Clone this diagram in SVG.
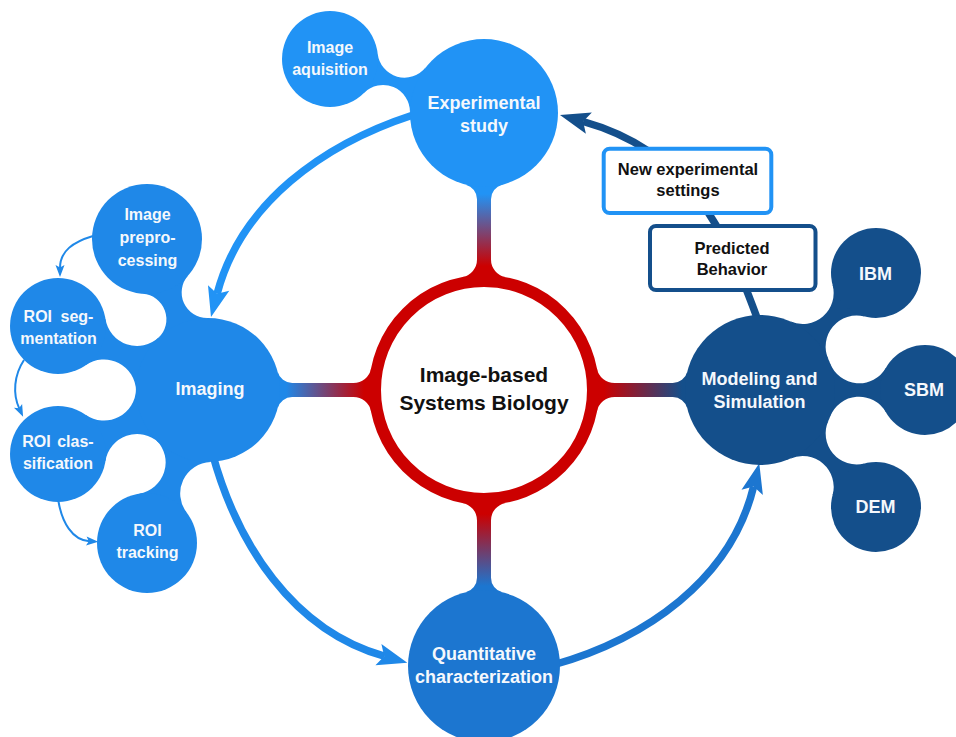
<svg xmlns="http://www.w3.org/2000/svg" width="956" height="737" viewBox="0 0 956 737">
<defs>
<style>
text { font-family: "Liberation Sans", Arial, sans-serif; font-weight: bold; text-anchor: middle; }
.wt { fill: #f5f8fc; }
.bt { fill: #111111; }
.exp { fill: #2193f5; }
.img { fill: #1f88e8; }
.qua { fill: #1c76d0; }
.mod { fill: #144f8b; }
.big { fill: none; stroke-width: 7.5; }
.small { fill: none; stroke: #1f88e8; stroke-width: 2; }
.box { fill: #ffffff; stroke-width: 4; }
</style>
<linearGradient id="gExp" gradientUnits="userSpaceOnUse" x1="484" y1="194" x2="484" y2="266">
<stop offset="0" stop-color="#2193f5"/><stop offset="1" stop-color="#cc0000"/>
</linearGradient>
<linearGradient id="gImg" gradientUnits="userSpaceOnUse" x1="286" y1="390" x2="364" y2="390">
<stop offset="0" stop-color="#1f88e8"/><stop offset="1" stop-color="#cc0000"/>
</linearGradient>
<linearGradient id="gQua" gradientUnits="userSpaceOnUse" x1="484" y1="514" x2="484" y2="586">
<stop offset="0" stop-color="#cc0000"/><stop offset="1" stop-color="#1c76d0"/>
</linearGradient>
<linearGradient id="gMod" gradientUnits="userSpaceOnUse" x1="604" y1="390" x2="682" y2="390">
<stop offset="0" stop-color="#cc0000"/><stop offset="1" stop-color="#144f8b"/>
</linearGradient>
<marker id="mA1" viewBox="-8 -12 34 24" markerWidth="34" markerHeight="24" refX="0" refY="0" orient="auto" markerUnits="userSpaceOnUse"><path d="M24,0 L-6,-11 L0,0 L-6,11 Z" fill="#2193f5"/></marker>
<marker id="mA2" viewBox="-8 -12 34 24" markerWidth="34" markerHeight="24" refX="0" refY="0" orient="auto" markerUnits="userSpaceOnUse"><path d="M24,0 L-6,-11 L0,0 L-6,11 Z" fill="#1f88e8"/></marker>
<marker id="mA3" viewBox="-8 -12 34 24" markerWidth="34" markerHeight="24" refX="0" refY="0" orient="auto" markerUnits="userSpaceOnUse"><path d="M24,0 L-6,-11 L0,0 L-6,11 Z" fill="#1c76d0"/></marker>
<marker id="mA4" viewBox="-8 -12 34 24" markerWidth="34" markerHeight="24" refX="0" refY="0" orient="auto" markerUnits="userSpaceOnUse"><path d="M24,0 L-6,-11 L0,0 L-6,11 Z" fill="#144f8b"/></marker>
<marker id="mS" viewBox="-4 -6 14 12" markerWidth="14" markerHeight="12" refX="0" refY="0" orient="auto" markerUnits="userSpaceOnUse"><path d="M9,0 L-3,-4.5 L-0.5,0 L-3,4.5 Z" fill="#1f88e8"/></marker>
</defs>
<rect width="956" height="737" fill="#ffffff"/>

<g id="connectors">
<g id="bars">
<path fill="url(#gExp)" d="M465.71,184.7 A15,15 0 0 1 477,199.24 L477,259.4 A18,18 0 0 1 462.4,277.1 L505.6,277.1 A18,18 0 0 1 491,259.4 L491,199.24 A15,15 0 0 1 502.29,184.7 Z"/>
<path fill="url(#gImg)" d="M277.66,371.79 A15,15 0 0 0 292.17,383 L353.4,383 A18,18 0 0 0 371.1,368.4 L371.1,411.6 A18,18 0 0 0 353.4,397 L292.17,397 A15,15 0 0 0 277.66,408.21 Z"/>
<path fill="url(#gQua)" d="M462.4,502.9 A18,18 0 0 1 477,520.6 L477,577.7 A15,15 0 0 1 465.63,592.25 L502.37,592.25 A15,15 0 0 1 491,577.7 L491,520.6 A18,18 0 0 1 505.6,502.9 Z"/>
<path fill="url(#gMod)" d="M596.9,368.4 A18,18 0 0 0 614.6,383 L672.73,383 A15,15 0 0 0 687.28,371.67 L687.28,408.33 A15,15 0 0 0 672.73,397 L614.6,397 A18,18 0 0 0 596.9,411.6 Z"/>
<path class="exp" d="M363.9,92.9 A27,27 0 0 1 410,112.3 L425.75,67.35 A27,27 0 0 1 377.7,53.7 Z"/>
<path class="img" d="M142.83,293.84 A25.5,25.5 0 0 1 158.45,337.77 L207.36,318 A25.5,25.5 0 0 1 188.09,275.56 Z"/>
<path class="img" d="M85.61,365.26 A32,32 0 0 1 136.01,391 L158.91,337.33 A32,32 0 0 1 105.45,318.75 Z"/>
<path class="img" d="M105.45,461.25 A32,32 0 0 1 158.91,442.67 L136.01,389 A32,32 0 0 1 85.61,414.74 Z"/>
<path class="img" d="M186.69,512.6 A31.5,31.5 0 0 1 210.57,461.96 L156.62,440.45 A31.5,31.5 0 0 1 139.12,493.63 Z"/>
<path class="mod" d="M832.58,284.82 A31,31 0 0 1 790.19,321.35 L828.38,359.22 A31,31 0 0 1 864.54,316.51 Z"/>
<path class="mod" d="M885.95,367.64 A31,31 0 0 1 830.08,363.28 L830.08,416.72 A31,31 0 0 1 885.95,412.36 Z"/>
<path class="mod" d="M864.54,463.49 A31,31 0 0 1 828.38,420.78 L790.19,458.65 A31,31 0 0 1 832.58,495.18 Z"/>
</g>
<g id="arrows">
<path class="big" stroke="#2193f5" marker-end="url(#mA1)" d="M413,115 C323.7,144.1 241,202.9 217.1,293.8"/>
<path class="big" stroke="#1f88e8" marker-end="url(#mA2)" d="M212,452 C236.8,544 292.6,630.4 384.2,656.2"/>
<path class="big" stroke="#1c76d0" marker-end="url(#mA3)" d="M553,665 C645.4,639 730.9,580 753.6,486.6"/>
<path class="big" stroke="#144f8b" marker-end="url(#mA4)" d="M760,326 C724.4,227.2 689,151.2 583.1,121.5"/>
<path class="small" marker-end="url(#mS)" d="M93,236 C73,242 60,251 60,268"/>
<path class="small" marker-end="url(#mS)" d="M24,360 C14,375 12.5,394 19.3,408.6"/>
<path class="small" marker-end="url(#mS)" d="M58.5,501.5 C62,522 72,540 89.3,541.2"/>
</g>
</g>

<g id="node-center">
<circle cx="484" cy="390" r="109" fill="#ffffff" stroke="#cc0000" stroke-width="12"/>
<text class="bt" x="484" y="382" font-size="21">Image-based</text>
<text class="bt" x="484" y="409.5" font-size="21">Systems Biology</text>
</g>

<g id="node-experimental">
<circle class="exp" cx="484" cy="113" r="74"/>
<text class="wt" x="484" y="108.5" font-size="18">Experimental</text>
<text class="wt" x="484" y="131.5" font-size="18">study</text>
</g>

<g id="node-acquisition">
<circle class="exp" cx="330" cy="59" r="48"/>
<text class="wt" x="330" y="52.5" font-size="16">Image</text>
<text class="wt" x="330" y="74.5" font-size="16">aquisition</text>
</g>

<g id="node-imaging">
<circle class="img" cx="208" cy="390" r="72"/>
<text class="wt" x="210" y="395" font-size="18">Imaging</text>
</g>

<g id="node-preprocessing">
<circle class="img" cx="147" cy="239" r="55"/>
<text class="wt" x="147.5" y="219.5" font-size="16">Image</text>
<text class="wt" x="147.5" y="242.5" font-size="16">prepro-</text>
<text class="wt" x="147.5" y="265.5" font-size="16">cessing</text>
</g>

<g id="node-segmentation">
<circle class="img" cx="58" cy="326" r="48"/>
<text class="wt" x="58.5" y="321.7" font-size="16" word-spacing="4">ROI seg-</text>
<text class="wt" x="58.5" y="344.2" font-size="16">mentation</text>
</g>

<g id="node-classification">
<circle class="img" cx="58" cy="454" r="48"/>
<text class="wt" x="58" y="446.7" font-size="16" word-spacing="2">ROI clas-</text>
<text class="wt" x="58" y="469.3" font-size="16">sification</text>
</g>

<g id="node-tracking">
<circle class="img" cx="147" cy="543" r="50"/>
<text class="wt" x="147.5" y="536" font-size="16">ROI</text>
<text class="wt" x="147.5" y="558" font-size="16">tracking</text>
</g>

<g id="node-quantitative">
<circle class="qua" cx="484" cy="666" r="76"/>
<text class="wt" x="484" y="659.5" font-size="18">Quantitative</text>
<text class="wt" x="484" y="682.5" font-size="18">characterization</text>
</g>

<g id="node-modeling">
<circle class="mod" cx="760" cy="390" r="75"/>
<text class="wt" x="759.5" y="385" font-size="18">Modeling and</text>
<text class="wt" x="759.5" y="408" font-size="18">Simulation</text>
</g>

<g id="node-ibm">
<circle class="mod" cx="876" cy="273" r="45"/>
<text class="wt" x="875.5" y="279.5" font-size="18">IBM</text>
</g>

<g id="node-sbm">
<circle class="mod" cx="925" cy="390" r="45"/>
<text class="wt" x="924" y="396" font-size="18">SBM</text>
</g>

<g id="node-dem">
<circle class="mod" cx="876" cy="507" r="45"/>
<text class="wt" x="875.5" y="512.5" font-size="18">DEM</text>
</g>

<g id="label-new-settings">
<rect class="box" x="603.7" y="148.7" width="167.6" height="64.3" rx="6" stroke="#2193f5"/>
<text class="bt" x="688" y="175" font-size="16.5">New experimental</text>
<text class="bt" x="688" y="195.5" font-size="16.5">settings</text>
</g>

<g id="label-predicted">
<rect class="box" x="650" y="226" width="165.5" height="64" rx="6" stroke="#144f8b"/>
<text class="bt" x="732" y="253.5" font-size="16.5">Predicted</text>
<text class="bt" x="732" y="274.5" font-size="16.5">Behavior</text>
</g>
</svg>
